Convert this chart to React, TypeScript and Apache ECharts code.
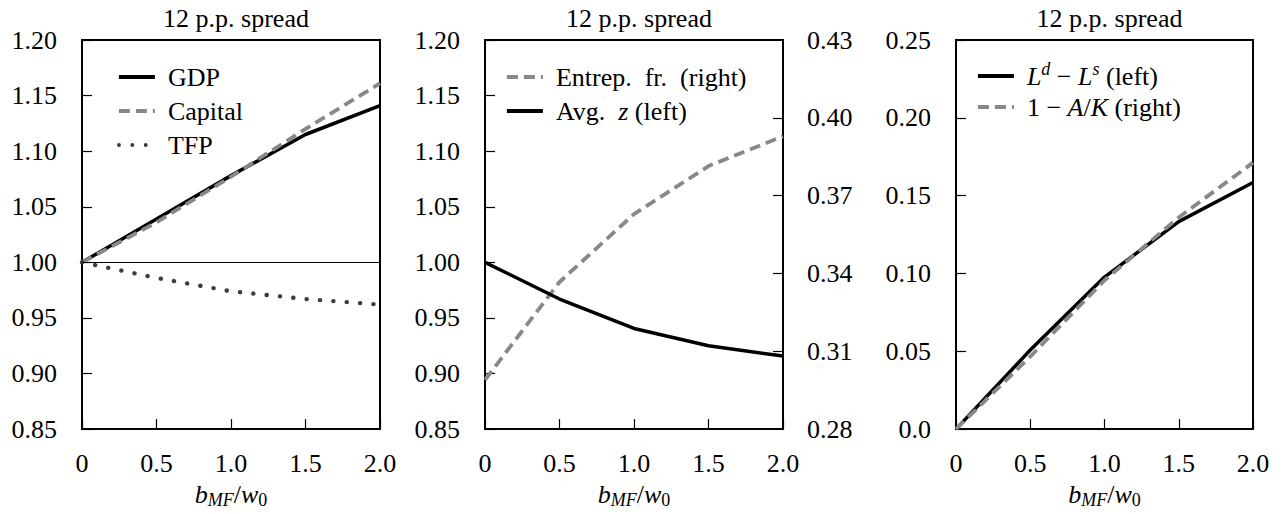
import React, { useEffect, useRef } from "react";
import * as echarts from "echarts";

const xs = [0, 0.5, 1.0, 1.5, 2.0];

// Panel 1
const gdp = [1.0, 1.039, 1.078, 1.115, 1.141];
const capital = [1.0, 1.036, 1.077, 1.12, 1.161];
const tfp = [1.0, 0.986, 0.974, 0.967, 0.962];

// Panel 2
const avgZ = [1.0, 0.967, 0.9405, 0.925, 0.9157];
const entrepFr = [0.299, 0.3367, 0.3629, 0.3814, 0.3929];
const rightTicks2 = [0.28, 0.31, 0.34, 0.37, 0.4, 0.43];

// Panel 3
const excessLabor = [0, 0.0508, 0.0977, 0.1333, 0.1584];
const oneMinusAK = [0, 0.0466, 0.0956, 0.136, 0.1712];

const title = "12 p.p. spread";

const FONT = "'Liberation Serif', 'DejaVu Serif', serif";
const FS = 26;
const SFS = 18;
const GRAY = "#888888";

const pairs = (v: number[]) => xs.map((x, i) => [x, v[i]]);

const richStyles = {
  i: { fontFamily: FONT, fontSize: FS, fontStyle: "italic", color: "#000" },
  sub: { fontFamily: FONT, fontSize: SFS, fontStyle: "italic", color: "#000", padding: [12, 0, 0, 0] },
  subn: { fontFamily: FONT, fontSize: SFS, color: "#000", padding: [12, 0, 0, 0] },
  sup: { fontFamily: FONT, fontSize: SFS, fontStyle: "italic", color: "#000", padding: [0, 0, 14, 0] },
  n: { fontFamily: FONT, fontSize: FS, color: "#000" },
};

const legendRich: Record<string, string> = {
  GDP: "GDP",
  Capital: "Capital",
  TFP: "TFP",
  "Entrep. fr. (right)": "Entrep.  fr.  (right)",
  "Avg. z (left)": "Avg.  {i|z} (left)",
  "L^d − L^s (left)": "{i|L}{sup|d} − {i|L}{sup|s} (left)",
  "1 − A/K (right)": "1 − {i|A}/{i|K} (right)",
};

const grids = [
  { left: 82, top: 40, width: 298, height: 391 },
  { left: 485, top: 40, width: 298, height: 391 },
  { left: 956, top: 40, width: 297, height: 391 },
];

export default function App() {
  const ref = useRef<HTMLDivElement>(null);
  useEffect(() => {
    if (!ref.current) return;
    const chart = echarts.init(ref.current, undefined, { renderer: "svg" });

    const xAxisBase = (gi: number) => ({
      type: "value",
      gridIndex: gi,
      min: 0,
      max: 2,
      interval: 0.5,
      axisLine: { show: false },
      axisTick: { show: true, inside: true, length: 10, lineStyle: { color: "#000", width: 1.2 } },
      axisLabel: {
        color: "#000",
        fontFamily: FONT,
        fontSize: FS,
        margin: 21,
        formatter: (v: number) => (v === 0 ? "0" : v.toFixed(1)),
      },
      splitLine: { show: false },
      name: "{i|b}{sub|MF}{n|/}{i|w}{subn|0}",
      nameLocation: "middle",
      nameGap: 48,
      nameTextStyle: { rich: richStyles },
    });

    const yLabel = (fmt: (v: number) => string, margin = 25) => ({
      color: "#000",
      fontFamily: FONT,
      fontSize: FS,
      margin,
      formatter: fmt,
    });

    const tickStyle = { show: true, inside: true, length: 10, lineStyle: { color: "#000", width: 1.2 } };

    const lineSeries = (name: string, xi: number, yi: number, data: number[][], style: any, extra: any = {}) => ({
      name,
      type: "line",
      xAxisIndex: xi,
      yAxisIndex: yi,
      data,
      symbol: "none",
      lineStyle: style,
      itemStyle: { color: style.color },
      z: 3,
      ...extra,
    });

    const solid = { color: "#000", width: 3.5, type: "solid" };
    const dashed = { color: GRAY, width: 3.8, type: [11, 6] };
    const dotted = { color: "#3c3c3c", width: 4.4, type: [0.1, 13.3], cap: "round" };

    const legendBase = (left: number, top: number, data: string[], lineHeight: number) => ({
      orient: "vertical",
      left,
      top,
      itemWidth: 36,
      itemHeight: 14,
      itemGap: 0,
      data,
      itemStyle: { opacity: 0 },
      lineStyle: { width: 3.8 },
      formatter: (name: string) => legendRich[name] || name,
      textStyle: {
        color: "#000",
        fontFamily: FONT,
        fontSize: FS,
        lineHeight,
        padding: [0, 0, 0, 8],
        rich: richStyles,
      },
    });

    const option: any = {
      animation: false,
      backgroundColor: "#fff",
      textStyle: { fontFamily: FONT },
      title: grids.map((g) => ({
        text: title,
        left: g.left + g.width / 2,
        top: 0,
        textAlign: "center",
        textStyle: { color: "#000", fontFamily: FONT, fontSize: FS, fontWeight: "normal" },
      })),
      grid: grids.map((g) => ({ ...g, show: true, borderColor: "#000", borderWidth: 2, backgroundColor: "transparent" })),
      xAxis: [xAxisBase(0), xAxisBase(1), xAxisBase(2)],
      yAxis: [
        {
          type: "value",
          gridIndex: 0,
          min: 0.85,
          max: 1.2,
          interval: 0.05,
          axisLine: { show: false },
          axisTick: tickStyle,
          axisLabel: yLabel((v: number) => v.toFixed(2)),
          splitLine: { show: false },
        },
        {
          type: "value",
          gridIndex: 1,
          min: 0.85,
          max: 1.2,
          interval: 0.05,
          axisLine: { show: false },
          axisTick: tickStyle,
          axisLabel: yLabel((v: number) => v.toFixed(2)),
          splitLine: { show: false },
        },
        {
          type: "value",
          gridIndex: 1,
          position: "right",
          min: 0.28,
          max: 0.43,
          axisLine: { show: false },
          axisTick: { ...tickStyle, customValues: rightTicks2.slice(1, -1) },
          axisLabel: { ...yLabel((v: number) => v.toFixed(2), 24), customValues: rightTicks2 },
          splitLine: { show: false },
        },
        {
          type: "value",
          gridIndex: 2,
          min: 0,
          max: 0.25,
          interval: 0.05,
          axisLine: { show: false },
          axisTick: tickStyle,
          axisLabel: yLabel((v: number) => (v === 0 ? "0.0" : v.toFixed(2))),
          splitLine: { show: false },
        },
      ],
      legend: [
        legendBase(112, 55, ["GDP", "Capital", "TFP"], 34),
        legendBase(500, 55, ["Entrep. fr. (right)", "Avg. z (left)"], 34),
        legendBase(971, 55, ["L^d − L^s (left)", "1 − A/K (right)"], 31),
      ],
      series: [
        lineSeries("GDP", 0, 0, pairs(gdp), solid, {
          markLine: {
            silent: true,
            symbol: "none",
            label: { show: false },
            lineStyle: { color: "#000", width: 1.2, type: "solid" },
            data: [{ yAxis: 1.0 }],
          },
        }),
        lineSeries("Capital", 0, 0, pairs(capital), dashed),
        lineSeries("TFP", 0, 0, pairs(tfp), dotted),
        lineSeries("Entrep. fr. (right)", 1, 2, pairs(entrepFr), dashed),
        lineSeries("Avg. z (left)", 1, 1, pairs(avgZ), solid),
        lineSeries("L^d − L^s (left)", 2, 3, pairs(excessLabor), solid),
        lineSeries("1 − A/K (right)", 2, 3, pairs(oneMinusAK), dashed),
      ],
    };

    chart.setOption(option);
    return () => chart.dispose();
  }, []);

  return (
    <div
      ref={ref}
      style={{ position: "fixed", left: 0, top: 0, width: 1283, height: 514, background: "#fff" }}
    />
  );
}
